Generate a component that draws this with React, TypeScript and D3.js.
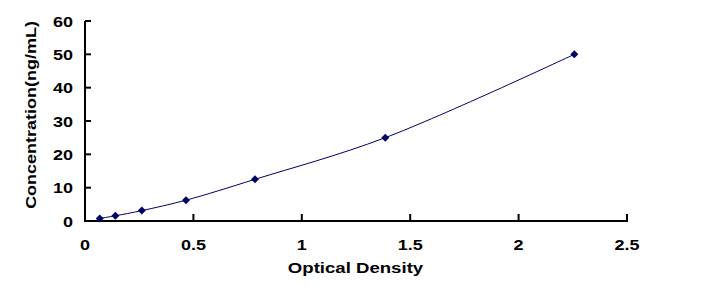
import React from "react";
import * as d3 from "d3";

const od = [0.068, 0.14, 0.262, 0.466, 0.784, 1.385, 2.257];
const conc = [0.78, 1.56, 3.12, 6.25, 12.5, 25, 50];
const xTicks = [0, 0.5, 1, 1.5, 2, 2.5];
const yTicks = [0, 10, 20, 30, 40, 50, 60];

export default function App() {
  const W = 704, H = 297;
  const x = d3.scaleLinear().domain([0, 2.5]).range([85, 627]);
  const y = d3.scaleLinear().domain([0, 60]).range([221, 21]);
  const pts = od.map((v, i) => [x(v), y(conc[i])] as [number, number]);
  const line = d3.line().curve(d3.curveCatmullRom.alpha(0.5))(pts) || "";
  const font = "'Liberation Sans', Arial, sans-serif";
  const color = "#000066";
  const sx = 1.2;
  const T = (props: { x: number; y: number; anchor: string; rot?: boolean; size?: number; children: React.ReactNode }) => (
    <text
      transform={`translate(${props.x},${props.y})${props.rot ? " rotate(-90)" : ""} scale(${sx},1)`}
      textAnchor={props.anchor}
      fontFamily={font}
      fontWeight="bold"
      fontSize={props.size || 15}
      fill="#000"
    >
      {props.children}
    </text>
  );
  return (
    <svg width={W} height={H} style={{ position: "absolute", left: 0, top: 0, background: "#fff" }}>
      <rect x={0} y={0} width={W} height={H} fill="#fff" />
      <line x1={x(0)} x2={x(0)} y1={y(60)} y2={y(0) + 1} stroke="#000" strokeWidth={2} />
      <line x1={x(0) - 1} x2={x(2.5) + 1} y1={y(0)} y2={y(0)} stroke="#000" strokeWidth={2} />
      {yTicks.map((t) => (
        <g key={"y" + t}>
          <line x1={x(0)} x2={x(0) + 6} y1={y(t)} y2={y(t)} stroke="#000" strokeWidth={2} />
          <T x={73} y={y(t) + 5.5} anchor="end">{t}</T>
        </g>
      ))}
      {xTicks.map((t) => (
        <g key={"x" + t}>
          <line x1={x(t)} x2={x(t)} y1={y(0)} y2={y(0) - 7} stroke="#000" strokeWidth={2} />
          <T x={x(t)} y={y(0) + 29} anchor="middle">{t}</T>
        </g>
      ))}
      <path d={line} fill="none" stroke={color} strokeWidth={1} />
      {pts.map(([px, py], i) => (
        <path key={i} d={`M${px},${py - 4}L${px + 4},${py}L${px},${py + 4}L${px - 4},${py}Z`} fill={color} />
      ))}
      <T x={355.5} y={273} anchor="middle" size={15.5}>Optical Density</T>
      <T x={36} y={115} anchor="middle" rot>Concentration(ng/mL)</T>
    </svg>
  );
}
